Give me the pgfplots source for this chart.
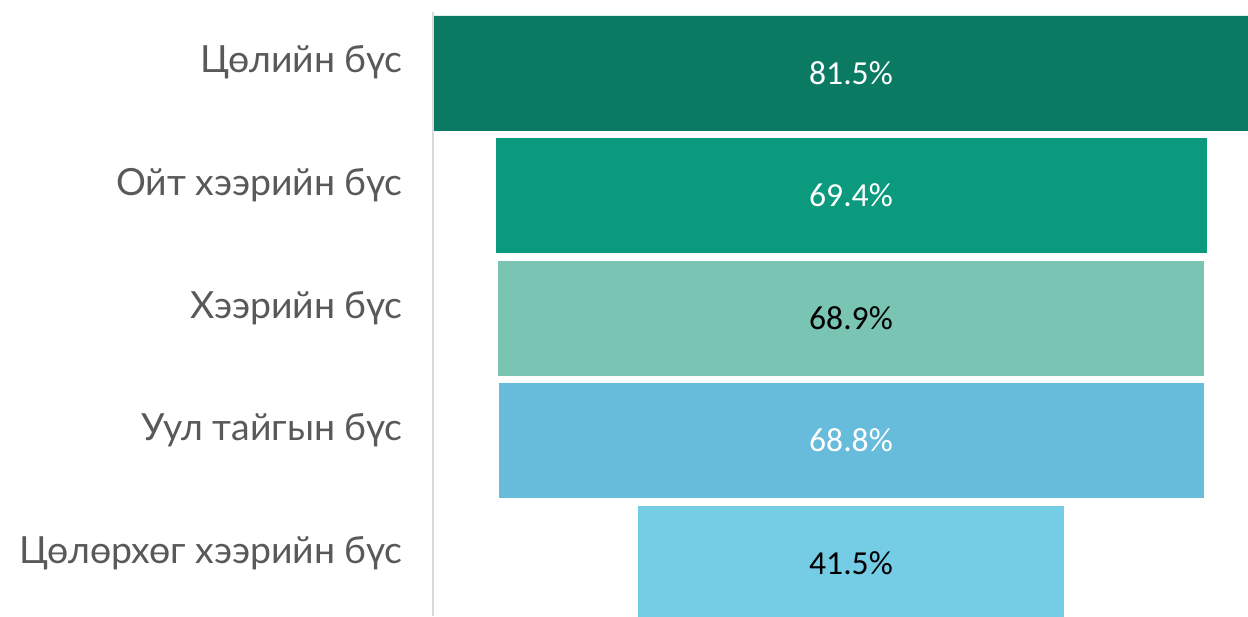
\documentclass[border=0pt]{standalone}
\usepackage{pgfplots}
\pgfplotsset{compat=1.18}
\usepackage{fontspec}
\setmainfont{Lato}
\newfontfamily\valfont{Carlito}
\definecolor{c1}{HTML}{0A7A63}
\definecolor{c2}{HTML}{0B9A7D}
\definecolor{c3}{HTML}{79C4B2}
\definecolor{c4}{HTML}{67BBDB}
\definecolor{c5}{HTML}{74CDE5}
\definecolor{lblgray}{HTML}{595959}
\definecolor{axgray}{HTML}{D9D9D9}
% #1 = position, #2 = value (%), #3 = fill colour, #4 = text colour
\newcommand\funnelbar[4]{%
  \addplot[xbar, bar width=0.93, bar shift=0pt, fill=#3, draw=#3, line width=0.3pt]
    table[row sep=\\, x expr=\thisrow{v}/2, y=y] {y v\\ #1 #2\\ #1 -#2\\};
  \addplot[draw=none, mark=none, nodes near coords={\pgfplotspointmeta\%},
    point meta=explicit symbolic,
    every node near coord/.append style={anchor=center, inner sep=0pt, text=#4,
      font=\valfont\fontsize{16.8}{19}\selectfont}]
    coordinates {(0,#1) [#2]};
}
\begin{document}
\begin{tikzpicture}
\begin{axis}[name=ax, scale only axis, width=407.5pt, height=302pt,
  xmin=-40.86, xmax=38.81, ymin=-0.4975, ymax=4.432, y dir=reverse,
  axis x line=none, axis y line*=left,
  y axis line style={draw=axgray, line width=1pt, -},
  ytick={0,1,2,3,4},
  yticklabels={Цөлийн бүс, Ойт хээрийн бүс, Хээрийн бүс, Уул тайгын бүс, Цөлөрхөг хээрийн бүс},
  major tick length=0pt,
  yticklabel style={anchor=base east, inner sep=0pt, xshift=-15pt,
    font=\fontsize{18.7}{22}\selectfont, text=lblgray},
  clip=true]
\funnelbar{0}{81.5}{c1}{white}
\funnelbar{1}{69.4}{c2}{white}
\funnelbar{2}{68.9}{c3}{black}
\funnelbar{3}{68.8}{c4}{white}
\funnelbar{4}{41.5}{c5}{black}
\end{axis}
\pgfresetboundingbox
\path ([xshift=-216.5pt]ax.south west) rectangle ([yshift=6pt]ax.north east);
\end{tikzpicture}
\end{document}
